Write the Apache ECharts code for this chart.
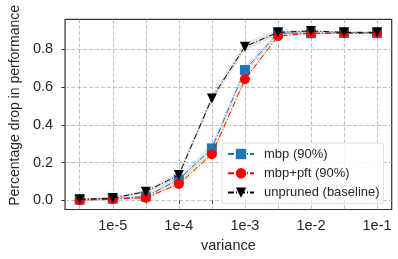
<!DOCTYPE html>
<html><head><meta charset="utf-8">
<script src="https://cdn.jsdelivr.net/npm/echarts@6/dist/echarts.min.js"></script>
<style>html,body{margin:0;padding:0;background:#fff}#c{width:398px;height:259px}</style>
</head><body><div id="c"></div>
<script>
// log10(variance) for each measured point
var varianceExp = [-5.5, -5, -4.5, -4, -3.5, -3, -2.5, -2, -1.5, -1];
var xTickLabels = {'-5': '1e-5', '-4': '1e-4', '-3': '1e-3', '-2': '1e-2', '-1': '1e-1'};
var yTicks = [0, 0.2, 0.4, 0.6, 0.8];

var mbp      = [0.003, 0.008, 0.020, 0.110, 0.275, 0.690, 0.885, 0.885, 0.887, 0.887];
var mbpPft   = [0.000, 0.006, 0.014, 0.086, 0.244, 0.641, 0.870, 0.885, 0.885, 0.885];
var unpruned = [0.005, 0.012, 0.046, 0.134, 0.540, 0.814, 0.890, 0.897, 0.890, 0.890];

// half-widths of the shaded bands
var mbpErr      = [0.004, 0.004, 0.012, 0.018, 0.025, 0.018, 0.010, 0.005, 0.004, 0.004];
var mbpPftErr   = [0.004, 0.004, 0.012, 0.018, 0.025, 0.018, 0.010, 0.005, 0.004, 0.004];
var unprunedErr = [0.004, 0.004, 0.010, 0.015, 0.020, 0.022, 0.015, 0.005, 0.004, 0.004];

var names = ['mbp (90%)', 'mbp+pft (90%)', 'unpruned (baseline)'];
var FONT = 'Liberation Sans';
var TXT = '#262626';

function pairs(vals) { return vals.map(function (v, i) { return [varianceExp[i], v]; }); }
function band(vals, err, color) {
  return {
    type: 'custom', silent: true, z: 1,
    data: vals.map(function (v, i) { return [varianceExp[i], v - err[i], v + err[i]]; }),
    encode: { x: 0, y: [1, 2] },
    renderItem: function (params, api) {
      if (params.dataIndex !== 0) return null;
      var pts = [];
      for (var j = 0; j < vals.length; j++) pts.push(api.coord([varianceExp[j], vals[j] + err[j]]));
      for (var k = vals.length - 1; k >= 0; k--) pts.push(api.coord([varianceExp[k], vals[k] - err[k]]));
      return { type: 'polygon', shape: { points: pts }, style: { fill: color, stroke: null } };
    }
  };
}
var dashDot = [6, 2, 1, 2];

var series = [
  band(mbp, mbpErr, 'rgba(170,180,235,0.35)'),
  band(mbpPft, mbpPftErr, 'rgba(235,225,150,0.35)'),
  band(unpruned, unprunedErr, 'rgba(0,0,0,0.10)'),
  { name: names[0], type: 'line', data: pairs(mbp), symbol: 'rect', symbolSize: 10,
    itemStyle: { color: '#1f77b4' }, lineStyle: { color: '#1f77b4', width: 1, type: dashDot }, z: 3 },
  { name: names[1], type: 'line', data: pairs(mbpPft), symbol: 'circle', symbolSize: 10,
    itemStyle: { color: '#ff0000' }, lineStyle: { color: '#ff0000', width: 1, type: dashDot }, z: 4 },
  { name: names[2], type: 'line', data: pairs(unpruned), symbol: 'triangle', symbolRotate: 180, symbolSize: 10,
    itemStyle: { color: '#000000' }, lineStyle: { color: '#000000', width: 1, type: dashDot }, z: 5 }
];

var chart = echarts.init(document.getElementById('c'), null, { renderer: 'canvas' });
chart.setOption({
  animation: false,
  backgroundColor: '#fff',
  grid: { left: 57.3, right: 6.3, top: 19.3, bottom: 49.5, show: true, borderColor: '#333', borderWidth: 1.2, backgroundColor: 'transparent' },
  legend: {
    data: names, orient: 'vertical', left: 222, top: 143,
    padding: [4.5, 4, 4.5, 5], itemWidth: 26, itemHeight: 13, itemGap: 6.3,
    backgroundColor: 'rgba(255,255,255,0.85)', borderColor: '#e0e0e0', borderWidth: 1, borderRadius: 3,
    textStyle: { fontFamily: FONT, fontSize: 13, color: TXT, padding: [0, 0, 0, 5] }
  },
  xAxis: {
    type: 'value', min: -5.722, max: -0.778, splitNumber: 10,
    name: 'variance', nameLocation: 'middle', nameGap: 27,
    nameTextStyle: { fontFamily: FONT, fontSize: 14.5, color: TXT },
    axisLine: { show: false },
    axisTick: { show: true, length: 3.5, lineStyle: { color: '#333', width: 1 }, customValues: varianceExp },
    axisLabel: { fontFamily: FONT, fontSize: 14.5, color: TXT, margin: 9, showMinLabel: false, showMaxLabel: false,
      formatter: function (v) { var k = String(Math.round(v * 2) / 2); return xTickLabels[k] || ''; } },
    splitLine: { show: true, lineStyle: { color: '#b0b0b0', width: 0.8, type: [4, 2] } }
  },
  yAxis: {
    type: 'value', min: -0.0487, max: 0.959, splitNumber: 5,
    name: 'Percentage drop in performance', nameLocation: 'middle', nameGap: 36,
    nameTextStyle: { fontFamily: FONT, fontSize: 14, color: TXT, padding: [0, 0, 0, 18] },
    axisLine: { show: false },
    axisTick: { show: true, length: 3.5, lineStyle: { color: '#333', width: 1 }, customValues: yTicks },
    axisLabel: { fontFamily: FONT, fontSize: 14.5, color: TXT, margin: 12, showMinLabel: false, showMaxLabel: false,
      formatter: function (v) { return v.toFixed(1); } },
    splitLine: { show: true, lineStyle: { color: '#b0b0b0', width: 0.8, type: [4, 2] } }
  },
  series: series
});
</script>
</body></html>
